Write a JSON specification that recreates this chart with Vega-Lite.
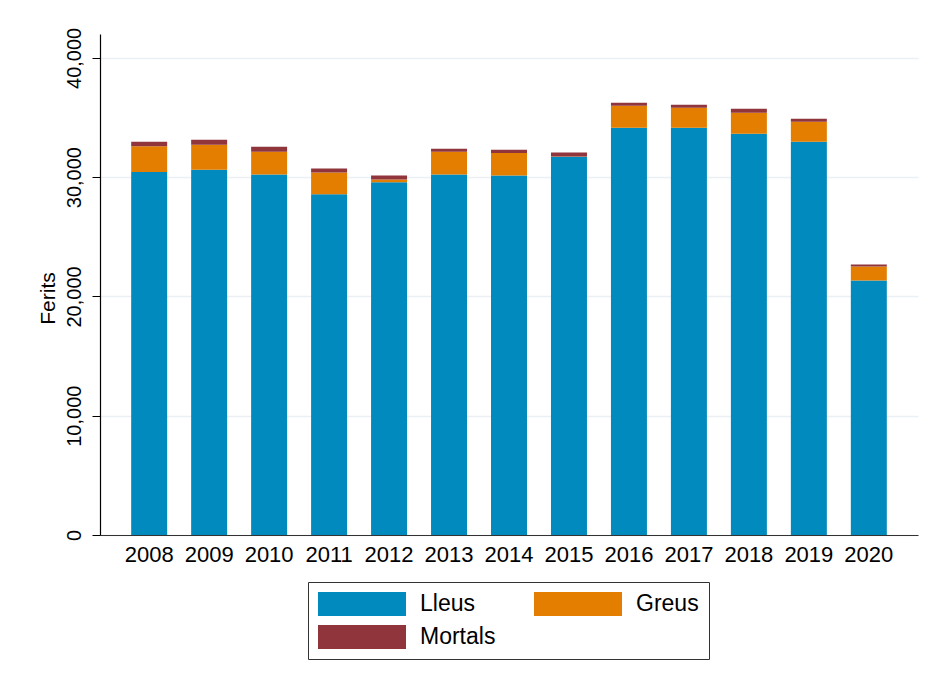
{
  "$schema": "https://vega.github.io/schema/vega-lite/v6.json",
  "autosize": {"type": "none"},
  "padding": {"left": 100, "top": 34, "right": 15, "bottom": 147},
  "width": 818,
  "height": 501,
  "background": "white",
  "config": {
    "font": "Liberation Sans",
    "view": {"stroke": null}
  },
  "data": {
    "values": [
      {"any": "2008", "tipus": "Lleus", "ferits": 30440},
      {"any": "2008", "tipus": "Greus", "ferits": 2140},
      {"any": "2008", "tipus": "Mortals", "ferits": 390},
      {"any": "2009", "tipus": "Lleus", "ferits": 30630},
      {"any": "2009", "tipus": "Greus", "ferits": 2090},
      {"any": "2009", "tipus": "Mortals", "ferits": 420},
      {"any": "2010", "tipus": "Lleus", "ferits": 30230},
      {"any": "2010", "tipus": "Greus", "ferits": 1900},
      {"any": "2010", "tipus": "Mortals", "ferits": 420},
      {"any": "2011", "tipus": "Lleus", "ferits": 28560},
      {"any": "2011", "tipus": "Greus", "ferits": 1820},
      {"any": "2011", "tipus": "Mortals", "ferits": 335},
      {"any": "2012", "tipus": "Lleus", "ferits": 29570},
      {"any": "2012", "tipus": "Greus", "ferits": 225},
      {"any": "2012", "tipus": "Mortals", "ferits": 335},
      {"any": "2013", "tipus": "Lleus", "ferits": 30230},
      {"any": "2013", "tipus": "Greus", "ferits": 1900},
      {"any": "2013", "tipus": "Mortals", "ferits": 260},
      {"any": "2014", "tipus": "Lleus", "ferits": 30130},
      {"any": "2014", "tipus": "Greus", "ferits": 1900},
      {"any": "2014", "tipus": "Mortals", "ferits": 276},
      {"any": "2015", "tipus": "Lleus", "ferits": 31720},
      {"any": "2015", "tipus": "Greus", "ferits": 20},
      {"any": "2015", "tipus": "Mortals", "ferits": 335},
      {"any": "2016", "tipus": "Lleus", "ferits": 34140},
      {"any": "2016", "tipus": "Greus", "ferits": 1840},
      {"any": "2016", "tipus": "Mortals", "ferits": 251},
      {"any": "2017", "tipus": "Lleus", "ferits": 34140},
      {"any": "2017", "tipus": "Greus", "ferits": 1675},
      {"any": "2017", "tipus": "Mortals", "ferits": 251},
      {"any": "2018", "tipus": "Lleus", "ferits": 33640},
      {"any": "2018", "tipus": "Greus", "ferits": 1760},
      {"any": "2018", "tipus": "Mortals", "ferits": 335},
      {"any": "2019", "tipus": "Lleus", "ferits": 32970},
      {"any": "2019", "tipus": "Greus", "ferits": 1675},
      {"any": "2019", "tipus": "Mortals", "ferits": 251},
      {"any": "2020", "tipus": "Lleus", "ferits": 21340},
      {"any": "2020", "tipus": "Greus", "ferits": 1170},
      {"any": "2020", "tipus": "Mortals", "ferits": 167}
    ]
  },
  "transform": [
    {"calculate": "indexof(['Lleus', 'Greus', 'Mortals'], datum.tipus)", "as": "ordre"}
  ],
  "mark": {"type": "bar"},
  "encoding": {
    "x": {
      "field": "any",
      "type": "ordinal",
      "scale": {"paddingInner": 0.4, "paddingOuter": 0.52},
      "axis": {
        "title": null,
        "labelAngle": 0,
        "labelFontSize": 22,
        "labelColor": "#000",
        "labelPadding": 9,
        "ticks": false,
        "domainColor": "#333",
        "domainWidth": 1.2,
        "grid": false
      }
    },
    "y": {
      "field": "ferits",
      "type": "quantitative",
      "aggregate": "sum",
      "stack": "zero",
      "scale": {"domain": [0, 42000], "nice": false},
      "axis": {
        "title": "Ferits",
        "titleFontSize": 21,
        "titleFontWeight": "normal",
        "titleColor": "#000",
        "titlePadding": 6,
        "titleY": 264,
        "values": [0, 10000, 20000, 30000, 40000],
        "format": ",.0f",
        "labelAngle": -90,
        "labelAlign": "center",
        "labelBaseline": "bottom",
        "labelFontSize": 20,
        "labelColor": "#000",
        "labelPadding": 8,
        "tickSize": 8,
        "tickColor": "#000",
        "domainColor": "#000",
        "domainWidth": 1.2,
        "grid": true,
        "gridColor": "#eaf0f3",
        "gridWidth": 1.5
      }
    },
    "color": {
      "field": "tipus",
      "type": "nominal",
      "sort": ["Lleus", "Greus", "Mortals"],
      "scale": {
        "domain": ["Lleus", "Greus", "Mortals"],
        "range": ["#018abd", "#e37e00", "#90353b"]
      },
      "legend": {
        "title": null,
        "orient": "none",
        "legendX": 208,
        "legendY": 548,
        "direction": "horizontal",
        "columns": 2,
        "padding": 10,
        "strokeColor": "#333",
        "fillColor": "white",
        "symbolType": "M-1,-0.273H1V0.273H-1Z",
        "symbolSize": 7744,
        "symbolStrokeWidth": 0,
        "symbolOpacity": 1,
        "clipHeight": 24,
        "rowPadding": 9,
        "columnPadding": 38,
        "labelOffset": 14,
        "labelFontSize": 23,
        "labelColor": "#000",
        "labelLimit": 200
      }
    },
    "order": {"field": "ordre", "type": "quantitative", "sort": "ascending"}
  }
}
